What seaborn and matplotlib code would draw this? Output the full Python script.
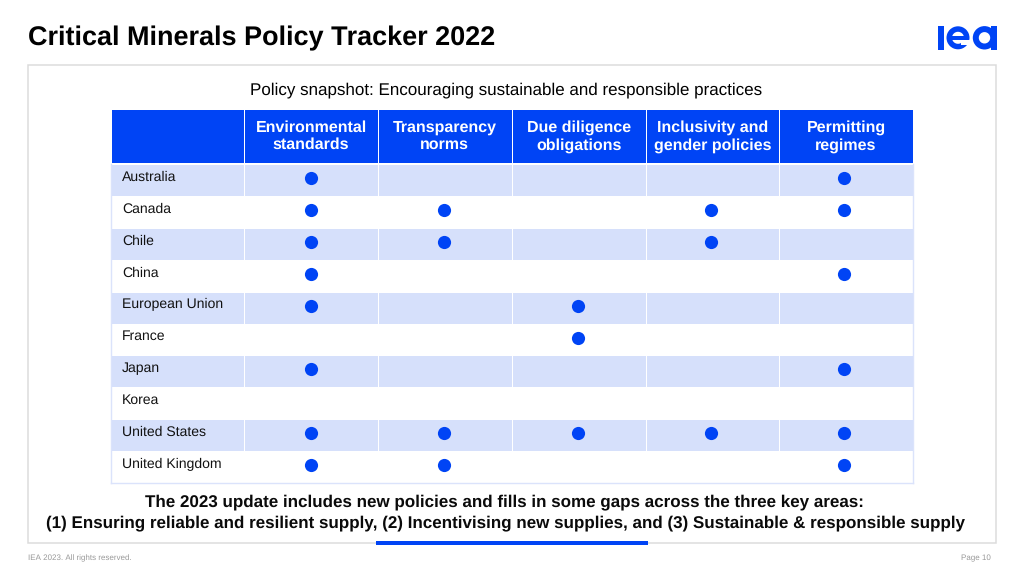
import numpy as np
import pandas as pd
import matplotlib
matplotlib.use("Agg")
import matplotlib.pyplot as plt
from matplotlib.colors import ListedColormap
from matplotlib.patches import Rectangle, Wedge
import seaborn as sns

countries = ["Australia", "Canada", "Chile", "China", "European Union",
             "France", "Japan", "Korea", "United States", "United Kingdom"]
columns = ["Environmental\nstandards", "Transparency\nnorms", "Due diligence\nobligations",
           "Inclusivity and\ngender policies", "Permitting\nregimes"]

environmental = [1, 1, 1, 1, 1, 0, 1, 0, 1, 1]
transparency = [0, 1, 1, 0, 0, 0, 0, 0, 1, 1]
due_diligence = [0, 0, 0, 0, 1, 1, 0, 0, 1, 0]
inclusivity = [0, 1, 1, 0, 0, 0, 0, 0, 1, 0]
permitting = [1, 1, 0, 1, 0, 0, 1, 0, 1, 1]

BLUE = "#0044f5"
STRIPE = "#d6e0fb"
W, H = 1024, 576


def px_axes(fig, x0, y0, x1, y1):
    # axes placed by reference pixels, y measured from the top
    return fig.add_axes([x0 / W, 1 - y1 / H, (x1 - x0) / W, (y1 - y0) / H])


def drawSlide(fig):
    ax = fig.add_axes([0, 0, 1, 1], zorder=0)
    ax.set_xlim(0, W)
    ax.set_ylim(H, 0)
    ax.axis("off")
    ax.add_patch(Rectangle((28, 65), 968, 478, fc="white", ec="#dcdcdc", lw=1.1))
    ax.add_patch(Rectangle((376, 541), 272, 4, fc=BLUE, ec="none"))
    ax.text(28, 38, "Critical Minerals Policy Tracker 2022", fontsize=19.2,
            fontweight="bold", color="black", va="center")
    ax.text(506, 90, "Policy snapshot: Encouraging sustainable and responsible practices",
            fontsize=12.2, ha="center", va="center", color="black")
    ax.text(504, 502, "The 2023 update includes new policies and fills in some gaps across the three key areas:",
            fontsize=12.22, fontweight="bold", ha="center", va="center", color="#0a0a0a")
    ax.text(506, 523, "(1) Ensuring reliable and resilient supply, (2) Incentivising new supplies, and (3) Sustainable & responsible supply",
            fontsize=12.22, fontweight="bold", ha="center", va="center", color="#0a0a0a")
    ax.text(28, 558, "IEA 2023. All rights reserved.", fontsize=5.45, color="#999999", va="center")
    ax.text(991, 558, "Page 10", fontsize=5.45, color="#999999", ha="right", va="center")
    drawLogo(ax)


def drawLogo(ax):
    ax.add_patch(Rectangle((937.5, 26), 6.5, 23.5, fc=BLUE, ec="none"))
    ax.add_patch(Wedge((958, 37.8), 11.5, 0, 360, width=5.5, fc=BLUE, ec="none"))
    ax.add_patch(Rectangle((948, 36), 21, 3.5, fc=BLUE, ec="none"))
    ax.add_patch(Rectangle((961, 40), 10, 4.5, fc="white", ec="none", zorder=3))
    ax.add_patch(Wedge((984.5, 37.8), 11.7, 0, 360, width=6, fc=BLUE, ec="none"))
    ax.add_patch(Rectangle((990.5, 26), 6, 23.5, fc=BLUE, ec="none"))


def drawHeader(fig):
    ax = px_axes(fig, 110.5, 108.5, 913, 162.5)
    blank = pd.DataFrame([[0] * 6])
    sns.heatmap(blank, ax=ax, cmap=ListedColormap([BLUE]), cbar=False, linewidths=0.7,
                linecolor="white", xticklabels=False, yticklabels=False, vmin=0, vmax=1)
    for i, name in enumerate(columns):
        ax.text(i + 1.5, 0.52, name, color="white", fontsize=11.2, fontweight="bold",
                ha="center", va="center", linespacing=1.2)


def drawBody(fig):
    ax = px_axes(fig, 110.5, 164, 913, 483)
    stripes = pd.DataFrame(np.tile(np.array([[1], [0]]), (5, 6)))
    sns.heatmap(stripes, ax=ax, cmap=ListedColormap(["white", STRIPE]), cbar=False,
                linewidths=0.7, linecolor="white", xticklabels=False, yticklabels=False)

    table = pd.DataFrame({columns[0]: environmental, columns[1]: transparency,
                          columns[2]: due_diligence, columns[3]: inclusivity,
                          columns[4]: permitting}, index=countries)
    long = table.rename_axis("country").reset_index().melt("country", var_name="policy", value_name="has")
    long = long[long["has"] == 1]
    long = long.assign(x=long["policy"].map(lambda p: columns.index(p) * 0.996 + 1.5),
                       y=long["country"].map(lambda c: countries.index(c) + 0.44))
    sns.scatterplot(data=long, x="x", y="y", ax=ax, color=BLUE, s=90, linewidth=0,
                    legend=False, clip_on=False)
    ax.set_xlabel("")
    ax.set_ylabel("")
    ax.set_xlim(0, 6)
    ax.set_ylim(10, 0)
    for i, c in enumerate(countries):
        ax.text(0.085, i + 0.41, c, fontsize=10.35, color="#111111", ha="left", va="center")
    for s in ["left", "right", "bottom"]:
        ax.spines[s].set_visible(True)
        ax.spines[s].set_color("#dbe3fb")
        ax.spines[s].set_linewidth(1)


def main():
    sns.set_theme(style="white")
    plt.rcParams["font.family"] = ["Liberation Sans", "DejaVu Sans"]
    plt.rcParams["text.hinting"] = "none"
    plt.rcParams["text.hinting_factor"] = 1
    fig = plt.figure(figsize=(W / 100, H / 100), dpi=100, facecolor="white")
    drawSlide(fig)
    drawHeader(fig)
    drawBody(fig)
    fig.savefig("out.png", dpi=100, facecolor="white")
    plt.close(fig)


if __name__ == "__main__":
    main()
